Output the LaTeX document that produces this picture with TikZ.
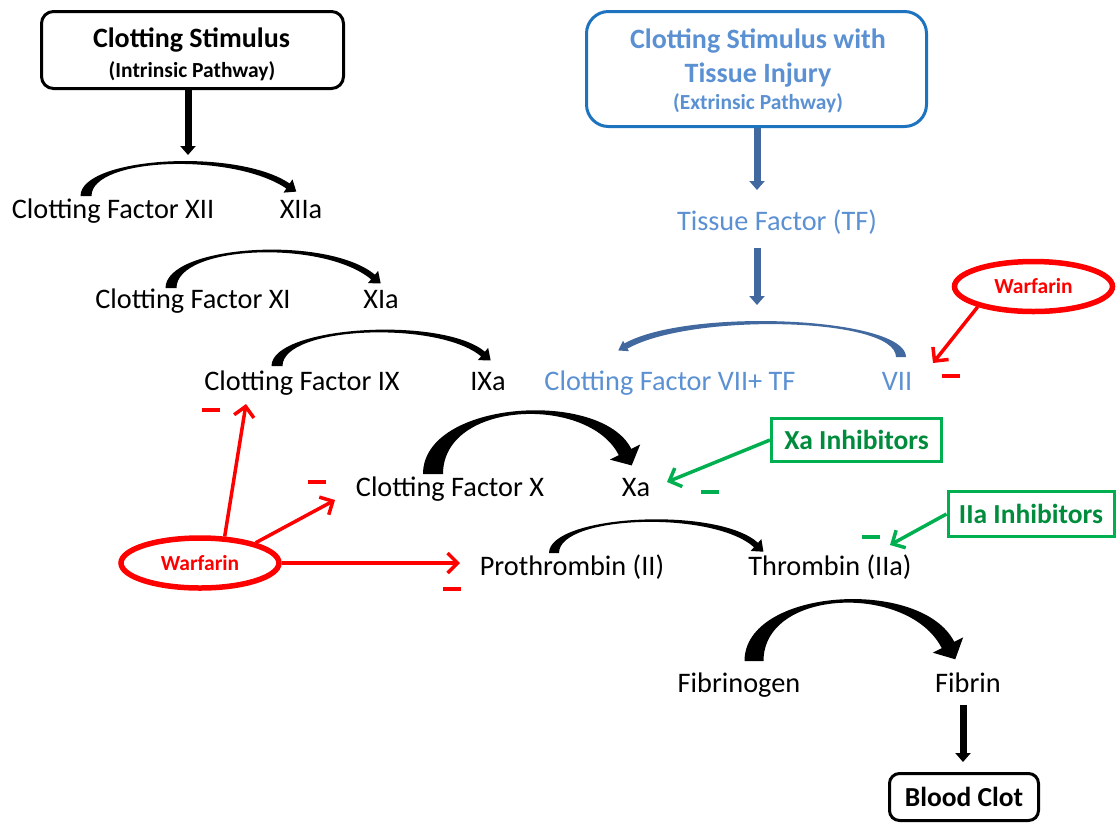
\documentclass[tikz,border=0pt]{standalone}
\usepackage{fontspec}
\setmainfont{Carlito}
\usetikzlibrary{arrows.meta,calc,shapes.geometric}

\definecolor{lblue}{RGB}{91,145,210}
\definecolor{bborder}{RGB}{30,115,190}
\definecolor{barrow}{RGB}{65,105,160}
\definecolor{wred}{RGB}{255,0,0}
\definecolor{ggreen}{RGB}{0,176,80}
\definecolor{gtext}{RGB}{0,140,60}

% Tapered curved arrow: #1 colour, #2 foot, #3 #4 controls, #5 neck,
% #6 half width at foot, #7 half width at neck, #8 half head width, #9 head length
\newcommand\bendarrow[9]{%
  \path (#2) coordinate (ba-s) (#3) coordinate (ba-c1)
        (#4) coordinate (ba-c2) (#5) coordinate (ba-n);
  \path ($(ba-s)!#6!90:(ba-c1)$) coordinate (ba-so)
        ($(ba-s)!#6!-90:(ba-c1)$) coordinate (ba-si)
        ($(ba-n)!#7!-90:(ba-c2)$) coordinate (ba-no)
        ($(ba-n)!#7!90:(ba-c2)$) coordinate (ba-ni)
        ($(ba-n)!#8!-90:(ba-c2)$) coordinate (ba-ho)
        ($(ba-n)!#8!90:(ba-c2)$) coordinate (ba-hi)
        ($(ba-n)!-#9!(ba-c2)$) coordinate (ba-t);
  \fill[#1] (ba-so) .. controls ($(ba-c1)+(ba-so)-(ba-s)$) and ($(ba-c2)+(ba-no)-(ba-n)$) .. (ba-no)
     -- (ba-ho) -- (ba-t) -- (ba-hi) -- (ba-ni)
     .. controls ($(ba-c2)+(ba-ni)-(ba-n)$) and ($(ba-c1)+(ba-si)-(ba-s)$) .. (ba-si) -- cycle;
}

\begin{document}
\begin{tikzpicture}[x=1pt,y=-1pt,
  lbl/.style={font=\fontsize{28.3}{33}\selectfont, anchor=base, inner sep=0pt, outer sep=0pt},
  blbl/.style={lbl, text=lblue},
  ttl/.style={font=\bfseries\fontsize{28}{33}\selectfont, anchor=base, inner sep=0pt},
  subttl/.style={font=\bfseries\fontsize{21.5}{25}\selectfont, anchor=base, inner sep=0pt},
  blackbox/.style={draw=black, line width=3pt, rounded corners=12pt, inner sep=0pt},
  bluebox/.style={draw=bborder, line width=3pt, rounded corners=22pt, inner sep=0pt},
  greenbox/.style={draw=ggreen, line width=3pt, text=gtext, font=\bfseries\fontsize{27.5}{32}\selectfont, inner sep=0pt},
  warf/.style={ellipse, draw=wred, line width=5.5pt, text=wred, font=\bfseries\fontsize{21.5}{25}\selectfont, inner sep=0pt, minimum width=158pt, minimum height=50pt},
  redarr/.style={draw=wred, line width=3.5pt, -{Straight Barb[length=10pt,width=20pt]}},
  greenarr/.style={draw=ggreen, line width=3.5pt, -{Straight Barb[length=10pt,width=20pt]}},
  blockarr/.style={line width=7pt, -{Triangle[length=9pt,width=15pt]}},
  minusbar/.style={minimum width=18pt, minimum height=4pt, inner sep=0pt},
]
\useasboundingbox (0,0) rectangle (1119,823);

% --- stimulus boxes ---
\node[blackbox, minimum width=302pt, minimum height=77pt] (intr) at (192.5,50) {};
\node[ttl] (intrt) at (191.5,47) {Clotting Stimulus};
\node[subttl] (intrs) at (192,77) {(Intrinsic Pathway)};

\node[bluebox, minimum width=340pt, minimum height=115pt] (ext) at (756.5,69) {};
\node[ttl, text=lblue] (extt1) at (758,48) {Clotting Stimulus with};
\node[ttl, text=lblue] (extt2) at (758,82) {Tissue Injury};
\node[subttl, text=lblue] (exts) at (758,109) {(Extrinsic Pathway)};

% --- factor labels ---
\node[lbl] (xii) at (113,218) {Clotting Factor XII};
\node[lbl] (xiia) at (301,218) {XIIa};
\node[lbl] (xi) at (193,308) {Clotting Factor XI};
\node[lbl] (xia) at (381,308) {XIa};
\node[lbl] (ix) at (302,390) {Clotting Factor IX};
\node[lbl] (ixa) at (488,390) {IXa};
\node[blbl] (viitf) at (670,390) {Clotting Factor VII+ TF};
\node[blbl] (vii) at (897,390) {VII};
\node[lbl] (fx) at (450,496) {Clotting Factor X};
\node[lbl] (xa) at (636,496) {Xa};
\node[lbl] (pro) at (572,575) {Prothrombin (II)};
\node[lbl] (thr) at (830,575) {Thrombin (IIa)};
\node[lbl] (fibg) at (739,692) {Fibrinogen};
\node[lbl] (fib) at (968,692) {Fibrin};
\node[blbl] (tf) at (777,230) {Tissue Factor (TF)};

\node[blackbox, rounded corners=10pt, minimum width=149pt, minimum height=47pt,
      font=\bfseries\fontsize{27.5}{32}\selectfont] (clot) at (964,797) {Blood Clot};

% --- straight block arrows ---
\coordinate (xiitop) at (188,155);
\draw[blockarr] (xiitop |- intr.south) -- (xiitop);
\coordinate (tftop) at (757,190);
\draw[blockarr, barrow] (tftop |- ext.south) -- (tftop);
\coordinate (tfbot) at (757,248);
\coordinate (viitop) at (757,305);
\draw[blockarr, barrow] (tfbot) -- (viitop);
\draw[blockarr] ($(fib.south -| clot.north)+(-1,13)$) -- ($(clot.north)+(-1,-10)$);

% --- conversion arcs ---
\bendarrow{black}{86,196}{86,157}{235,150}{288,186}{5.5pt}{3pt}{8pt}{10pt}
\bendarrow{black}{171,288}{171,245}{325,237}{373,277}{5.5pt}{3pt}{8pt}{10pt}
\bendarrow{black}{277,366}{277,326}{440,318}{483,354}{5.5pt}{3pt}{8pt}{10pt}
\bendarrow{barrow}{901,357}{901,317}{690,310}{626,346}{5pt}{3pt}{6pt}{9pt}
\bendarrow{black}{433,474}{433,400}{595,392}{625,452}{10pt}{7pt}{17pt}{15pt}
\bendarrow{black}{554,553}{554,515}{715,508}{756,545}{5pt}{3pt}{8pt}{10pt}
\bendarrow{black}{754,661}{754,588}{915,580}{948,645}{9.5pt}{7pt}{17pt}{16pt}

% --- inhibitors ---
\node[warf] (wl) at (200,563) {Warfarin};
\node[warf] (wr) at (1033.5,286.5) {Warfarin};
\node[greenbox, minimum width=170pt, minimum height=43pt] (xinh) at (856.5,440) {Xa Inhibitors};
\node[greenbox, minimum width=166pt, minimum height=45pt] (iinh) at (1031,514) {IIa Inhibitors};

\coordinate (ixhit) at (246,404);
\coordinate (xhit) at (335,500);
\coordinate (prohit) at (460,563);
\coordinate (viihit) at (933,363);
\coordinate (xahit) at (667,482);
\coordinate (thrhit) at (890,545);
\draw[redarr] (wl.47) -- (ixhit);
\draw[redarr] (wl.20) -- (xhit);
\draw[redarr] (wl.east) -- (prohit);
\draw[redarr] (wr.200) -- (viihit);
\draw[greenarr] (xinh.west) -- (xahit);
\draw[greenarr] (iinh.west) -- (thrhit);

% --- minus signs ---
\node[minusbar, fill=wred] (m1) at (211,410) {};
\node[minusbar, fill=wred] (m2) at (317,482) {};
\node[minusbar, fill=wred] (m3) at (452,589) {};
\node[minusbar, fill=wred] (m4) at (951,376) {};
\node[minusbar, fill=ggreen] (m5) at (710,492) {};
\node[minusbar, fill=ggreen] (m6) at (871,537) {};
\end{tikzpicture}
\end{document}
